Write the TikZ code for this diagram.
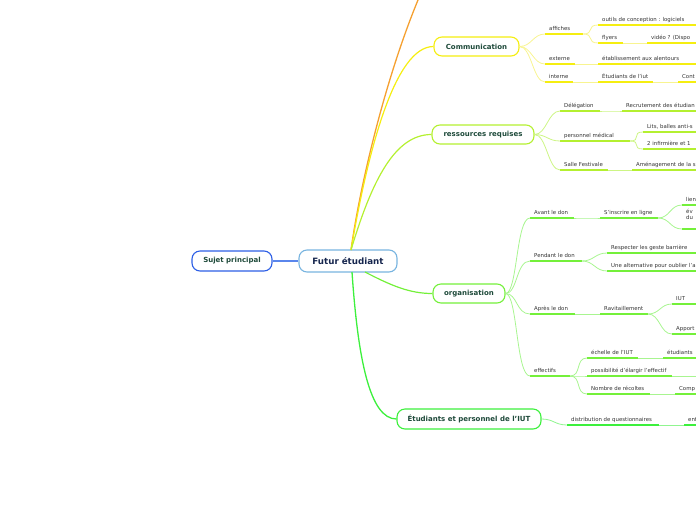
\documentclass[tikz,border=0pt]{standalone}
\usepackage{fontspec}
\setmainfont{DejaVu Sans}
\definecolor{txtdark}{HTML}{1E4A3A}
\definecolor{txtnavy}{HTML}{16264E}
\definecolor{leaftxt}{HTML}{333333}
\definecolor{cblue}{HTML}{2D5FE6}
\definecolor{cbluel}{HTML}{5A86EC}
\definecolor{clblue}{HTML}{78B4E0}
\definecolor{corange}{HTML}{F5A030}
\definecolor{cyel}{HTML}{F5EE10}
\definecolor{cyell}{HTML}{F8F490}
\definecolor{cyg}{HTML}{B4F030}
\definecolor{cygl}{HTML}{CDF585}
\definecolor{cgr}{HTML}{74F03A}
\definecolor{cgrl}{HTML}{A8F590}
\definecolor{cbg}{HTML}{3CF03C}
\definecolor{cbgl}{HTML}{90F590}
\tikzset{
  topic/.style={draw, rounded corners=8pt, line width=1.1pt, fill=white, inner sep=0pt,
    font=\fontsize{7}{8}\selectfont\bfseries, text=txtdark},
  leaf/.style={inner sep=0pt, font=\fontsize{5.4}{6.2}\selectfont, text=leaftxt},
  conn/.style={line width=0.8pt},
}
\newcommand\mmleaf[6]{%
  \coordinate (#1-l) at (#2,#4);
  \coordinate (#1-r) at (#3,#4);
  \draw[#5, line width=1.7pt] (#1-l) -- (#1-r);
  \node[leaf, anchor=base west] (#1) at ({#2+4},{#4-3.2}) {#6};
}
\newcommand\mmlink[3]{% color, from, to
  \draw[conn,#1] (#2) .. controls +(12,0) and +(-12,0) .. (#3);
}
\begin{document}
\begin{tikzpicture}[x=1pt,y=-1pt]
\useasboundingbox (0,0) rectangle (696,520);
\clip (0,0) rectangle (696,520);
% main nodes
\node[topic, draw=cblue, minimum width=80pt, minimum height=20pt] (suj) at (232,261) {Sujet principal};
\node[topic, draw=clblue, text=txtnavy, minimum width=98pt, minimum height=22pt,
  font=\fontsize{8.7}{10}\selectfont\bfseries] (fut) at (348,261) {Futur étudiant};
\draw[cbluel, line width=1.1pt] (suj.east) -- (fut.west);
\coordinate (futtop) at (351,250);
\coordinate (futbot) at (352,272);
\coordinate (orgout) at (365,272);
\coordinate (topexit) at (418,0);
\draw[corange, line width=1.3pt] (futtop) .. controls (360,185) and (385,80) .. (topexit);

\node[topic, draw=cyel, minimum width=85pt, minimum height=19pt] (comm) at (476.5,46.5) {Communication};
\node[topic, draw=cyg, minimum width=102pt, minimum height=19pt] (res) at (483,134.5) {ressources requises};
\node[topic, draw=cgr, minimum width=72pt, minimum height=19pt] (org) at (469,293.5) {organisation};
\node[topic, draw=cbg, minimum width=144pt, minimum height=20pt] (etp) at (469,419) {Étudiants et personnel de l'IUT};

\draw[cyel, line width=1.2pt] (futtop) .. controls (368,150) and (395,46.5) .. (comm.west);
\draw[cyg, line width=1.2pt] (futtop) .. controls (372,180) and (395,134.5) .. (res.west);
\draw[cgr, line width=1.2pt] (orgout) .. controls (392,286) and (410,293.5) .. (org.west);
\draw[cbg, line width=1.3pt] (futbot) .. controls (358,360) and (370,419) .. (etp.west);

% Communication
\mmleaf{aff}{545}{583}{34}{cyel}{affiches}
\mmleaf{out}{598}{700}{25}{cyel}{outils de conception : logiciels}
\mmleaf{fly}{598}{623}{43}{cyel}{flyers}
\mmleaf{vid}{647}{700}{43}{cyel}{vidéo ? (Dispo}
\mmleaf{ext}{545}{575}{64}{cyel}{externe}
\mmleaf{eta}{598}{700}{64}{cyel}{établissement aux alentours}
\mmleaf{int}{545}{573}{82}{cyel}{interne}
\mmleaf{etu}{598}{653}{82}{cyel}{Étudiants de l'iut}
\mmleaf{cont}{678}{700}{82}{cyel}{Cont}
\mmlink{cyell}{comm.east}{aff-l}
\mmlink{cyell}{comm.east}{ext-l}
\mmlink{cyell}{comm.east}{int-l}
\mmlink{cyell}{aff-r}{out-l}
\mmlink{cyell}{aff-r}{fly-l}
\mmlink{cyell}{fly-r}{vid-l}
\mmlink{cyell}{ext-r}{eta-l}
\mmlink{cyell}{int-r}{etu-l}
\mmlink{cyell}{etu-r}{cont-l}

% ressources requises
\mmleaf{del}{560}{600}{111}{cyg}{Délégation}
\mmleaf{rec}{622}{700}{111}{cyg}{Recrutement des étudian}
\mmleaf{med}{560}{630}{141}{cyg}{personnel médical}
\mmleaf{lit}{643}{700}{132}{cyg}{Lits, balles anti-s}
\mmleaf{inf}{643}{700}{149}{cyg}{2 infirmière et 1}
\mmleaf{sal}{560}{608}{170}{cyg}{Salle Festivale}
\mmleaf{ame}{632}{700}{170}{cyg}{Aménagement de la s}
\mmlink{cygl}{res.east}{del-l}
\mmlink{cygl}{res.east}{med-l}
\mmlink{cygl}{res.east}{sal-l}
\mmlink{cygl}{del-r}{rec-l}
\mmlink{cygl}{med-r}{lit-l}
\mmlink{cygl}{med-r}{inf-l}
\mmlink{cygl}{sal-r}{ame-l}

% organisation
\mmleaf{avant}{530}{574}{218}{cgr}{Avant le don}
\mmleaf{insc}{600}{658}{218}{cgr}{S'inscrire en ligne}
\mmleaf{lien}{682}{700}{205}{cgr}{lien}
\coordinate (ev-l) at (682,229);
\coordinate (ev-r) at (700,229);
\draw[cgr, line width=1.7pt] (ev-l) -- (ev-r);
\node[leaf, anchor=base west, align=left] (ev) at (686,219.5) {év\\[-0.5pt]du};
\mmleaf{pend}{530}{582}{261}{cgr}{Pendant le don}
\mmleaf{resp}{607}{700}{253}{cgr}{Respecter les geste barrière}
\mmleaf{alt}{607}{700}{271}{cgr}{Une alternative pour oublier l'a}
\mmleaf{apres}{530}{575}{314}{cgr}{Après le don}
\mmleaf{rav}{600}{648}{314}{cgr}{Ravitaillement}
\mmleaf{iut}{672}{700}{304}{cgr}{IUT}
\mmleaf{app}{672}{700}{334}{cgr}{Apport}
\mmleaf{eff}{530}{570}{376}{cgr}{effectifs}
\mmleaf{ech}{587}{638}{358}{cgr}{échelle de l'IUT}
\mmleaf{etd}{663}{700}{358}{cgr}{étudiants}
\mmleaf{pos}{587}{672}{376}{cgr}{possibilité d'élargir l'effectif}
\coordinate (pos-out) at (700,376);
\mmleaf{nomb}{587}{650}{394}{cgr}{Nombre de récoltes}
\mmleaf{comp}{675}{700}{394}{cgr}{Comp}
\draw[conn,cgrl] (org.east) .. controls +(12,0) and +(-14,0) .. (avant-l);
\draw[conn,cgrl] (org.east) .. controls +(12,0) and +(-14,0) .. (pend-l);
\draw[conn,cgrl] (org.east) .. controls +(12,0) and +(-14,0) .. (apres-l);
\draw[conn,cgrl] (org.east) .. controls +(12,0) and +(-14,0) .. (eff-l);
\mmlink{cgrl}{avant-r}{insc-l}
\mmlink{cgrl}{insc-r}{lien-l}
\mmlink{cgrl}{insc-r}{ev-l}
\mmlink{cgrl}{pend-r}{resp-l}
\mmlink{cgrl}{pend-r}{alt-l}
\mmlink{cgrl}{apres-r}{rav-l}
\mmlink{cgrl}{rav-r}{iut-l}
\mmlink{cgrl}{rav-r}{app-l}
\mmlink{cgrl}{eff-r}{ech-l}
\mmlink{cgrl}{eff-r}{pos-l}
\mmlink{cgrl}{eff-r}{nomb-l}
\mmlink{cgrl}{ech-r}{etd-l}
\draw[conn,cgrl] (pos-r) -- (pos-out);
\mmlink{cgrl}{nomb-r}{comp-l}

% Etudiants et personnel
\mmleaf{dist}{567}{659}{425}{cbg}{distribution de questionnaires}
\mmleaf{ent}{684}{700}{425}{cbg}{ent}
\mmlink{cbgl}{etp.east}{dist-l}
\mmlink{cbgl}{dist-r}{ent-l}
\end{tikzpicture}
\end{document}
